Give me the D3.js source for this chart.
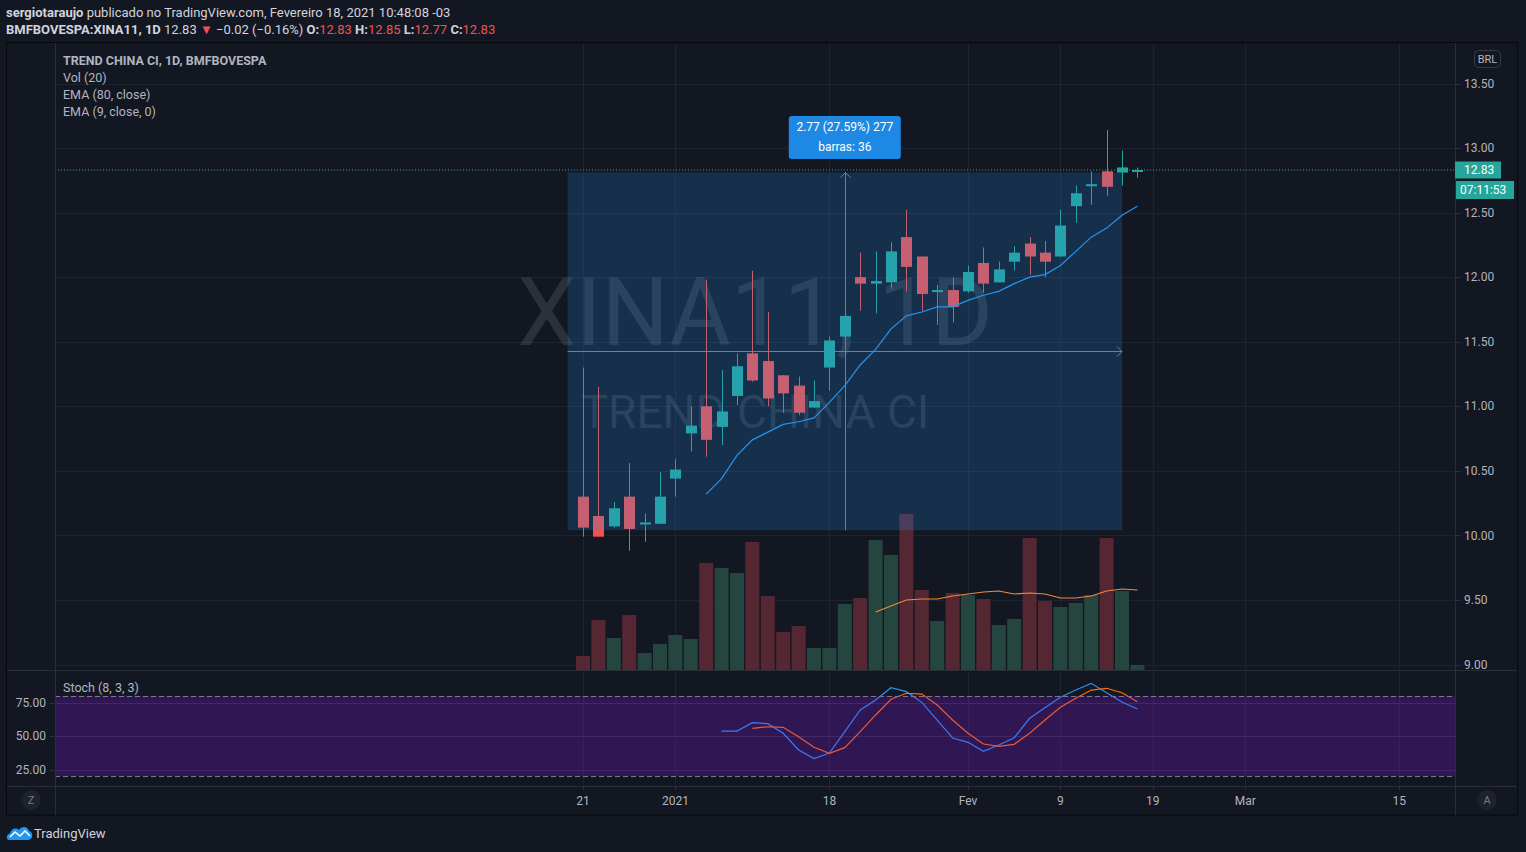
<!DOCTYPE html>
<html>
<head>
<meta charset="utf-8">
<script src="https://cdn.jsdelivr.net/npm/d3@7"></script>
<style>
  html, body { margin: 0; padding: 0; background: #131722; }
  svg { display: block; font-family: Roboto, "Noto Sans", sans-serif; }
</style>
</head>
<body>
<div id="chart"></div>
<script>
// XINA11 daily - values

// trading days (index 0 = Dec 21 2020)
const dates = ["2020-12-21","2020-12-22","2020-12-23","2020-12-28","2020-12-29","2020-12-30",
  "2021-01-04","2021-01-05","2021-01-06","2021-01-07","2021-01-08","2021-01-11","2021-01-12",
  "2021-01-13","2021-01-14","2021-01-15","2021-01-18","2021-01-19","2021-01-20","2021-01-21",
  "2021-01-22","2021-01-26","2021-01-27","2021-01-28","2021-01-29","2021-02-01","2021-02-02",
  "2021-02-03","2021-02-04","2021-02-05","2021-02-08","2021-02-09","2021-02-10","2021-02-11",
  "2021-02-12","2021-02-17","2021-02-18"];

const open  = [10.30,10.15,10.07,10.30,10.09,10.09,10.44,10.79,11.00,10.84,11.08,11.41,11.35,11.24,11.16,10.99,11.30,11.54,12.00,11.95,11.96,12.31,12.16,11.89,11.90,11.89,12.11,11.96,12.12,12.26,12.19,12.16,12.55,12.71,12.82,12.81,12.83];
const high  = [11.30,11.15,10.26,10.56,10.17,10.49,10.59,11.00,11.98,11.28,11.41,12.05,11.73,11.24,11.23,11.20,11.54,11.73,12.19,12.20,12.27,12.52,12.16,11.94,12.00,12.09,12.23,12.12,12.24,12.31,12.28,12.52,12.71,12.82,13.14,12.98,12.85];
const low   = [9.99,9.99,10.06,9.88,9.95,10.09,10.30,10.65,10.61,10.70,11.01,11.19,11.00,10.95,10.93,10.99,11.12,11.48,11.74,11.72,11.91,11.89,11.74,11.63,11.65,11.88,11.88,11.96,12.05,12.02,12.00,12.16,12.42,12.56,12.63,12.71,12.77];
const close = [10.06,9.99,10.21,10.05,10.10,10.30,10.51,10.85,10.74,10.96,11.31,11.20,11.06,11.10,10.95,11.04,11.51,11.70,11.95,11.97,12.20,12.08,11.87,11.90,11.77,12.04,11.95,12.06,12.19,12.16,12.12,12.40,12.65,12.72,12.70,12.85,12.83];

// volume, relative units (no scale shown on the snapshot)
const volume = [14,50,32,55,17,26,35,31,107,102,97,128,74,38,44,22,22,66,72,130,115,156,80,49,77,75,71,45,51,132,69,63,67,75,132,79,5];
// Vol (20) moving average, starts at bar 19
const volMA = [null,null,null,null,null,null,null,null,null,null,null,null,null,null,null,null,null,null,null,
  58,64,70,71,71,74,76,78,79,76,77,76,72,72,74,79,81,80];

// EMA (9, close), starts at bar 8
const ema9 = [null,null,null,null,null,null,null,null,
  10.32,10.44,10.62,10.74,10.80,10.86,10.88,10.91,11.03,11.16,11.32,11.44,11.60,11.70,11.73,11.77,11.77,11.82,11.86,11.89,11.95,12.00,12.02,12.09,12.20,12.31,12.38,12.48,12.55];

// Stoch (8, 3, 3)
const stochK = [null,null,null,null,null,null,null,null,null,
  53.7,53.7,59.9,59.2,52.0,39.6,33.1,37.3,53.2,69.4,76.9,86.0,83.1,75.1,61.9,48.5,45.3,38.6,43.3,48.7,63.2,71.1,78.9,84.3,89.3,82.3,75.4,70.1];
const stochD = [null,null,null,null,null,null,null,null,null,null,null,
  55.7,56.9,56.5,49.5,41.6,37.1,41.3,53.2,65.7,77.4,81.9,81.3,73.1,61.9,52.0,44.0,42.3,43.8,52.0,61.9,71.4,78.1,84.3,85.6,82.3,75.6];

// axes
const priceTicks = [9.0, 9.5, 10.0, 10.5, 11.0, 11.5, 12.0, 12.5, 13.0, 13.5];
const stochTicks = [25, 50, 75];
const timeTickIndex = [0, 6, 16, 25, 31, 37, 43, 53];
const timeTickLabels = ["21", "2021", "18", "Fev", "9", "19", "Mar", "15"];

// price range measurement (bar -1 to bar 35)
const measureBars = [-1, 35];
const measurePrices = [10.04, 12.81];

const W = 1526, H = 852;
const paneL = 55, paneR = 1455, paneT = 43, paneB = 670;
const stochT = 672, stochB = 786, frameB = 815;

const UP = "#26a69a", DOWN = "#ef5350";
const GRID = "#1f2330", BORDER = "#2a2e39", TEXT = "#b2b5be";

const x = d3.scaleLinear().domain([0, 53]).range([583, 583 + 53 * 15.4]);
const y = d3.scaleLinear().domain([9, 13.5]).range([664.5, 83.5]);
const yVol = d3.scaleLinear().domain([0, 156]).range([670, 514]);
const yStoch = d3.scaleLinear().domain([0, 100]).range([803, 669]);

const svg = d3.select("#chart").append("svg")
  .attr("width", W)
  .attr("height", H)
  .style("white-space", "pre");

svg.append("rect").attr("width", W).attr("height", H).attr("fill", "#131722");

// clip paths for the two panes
const defs = svg.append("defs");
defs.append("clipPath").attr("id", "mainClip").append("rect")
  .attr("x", paneL).attr("y", paneT).attr("width", paneR - paneL).attr("height", paneB - paneT);
defs.append("clipPath").attr("id", "stochClip").append("rect")
  .attr("x", paneL).attr("y", stochT).attr("width", paneR - paneL).attr("height", stochB - stochT);

// ---------- header ----------
const h1 = svg.append("text").attr("x", 6).attr("y", 17)
  .attr("font-size", "13px").attr("fill", "#d1d4dc");
h1.append("tspan").attr("font-weight", "700").text("sergiotaraujo");
h1.append("tspan").text(" publicado no TradingView.com, Fevereiro 18, 2021 10:48:08 -03");

const last = close.length - 1;
const chg = close[last] - close[last - 1];
const h2 = svg.append("text").attr("x", 6).attr("y", 34)
  .attr("font-size", "13px").attr("fill", "#d1d4dc");
h2.append("tspan").attr("font-weight", "700").text("BMFBOVESPA:XINA11, 1D");
h2.append("tspan").text("  " + close[last].toFixed(2) + " ");
h2.append("tspan").attr("fill", DOWN).text("▼");
h2.append("tspan").text(" \u2212" + Math.abs(chg).toFixed(2) + " (\u2212" + Math.abs(chg / close[last - 1] * 100).toFixed(2) + "%) ");
[["O:", open[last]], ["H:", high[last]], ["L:", low[last]], ["C:", close[last]]].forEach(([k, v]) => {
  h2.append("tspan").attr("font-weight", "700").text(k);
  h2.append("tspan").attr("fill", DOWN).text(v.toFixed(2) + " ");
});

// outer frame
svg.append("rect")
  .attr("x", 6.5).attr("y", 42.5).attr("width", 1511).attr("height", frameB - 42.5)
  .attr("fill", "#131722").attr("stroke", "#07080b");

// ---------- main pane ----------
const main = svg.append("g").attr("clip-path", "url(#mainClip)");

// grid
main.selectAll(".hgrid").data(priceTicks).enter().append("line")
  .attr("x1", paneL).attr("x2", paneR)
  .attr("y1", d => Math.round(y(d)) + 0.5).attr("y2", d => Math.round(y(d)) + 0.5)
  .attr("stroke", GRID);
main.selectAll(".vgrid").data(timeTickIndex).enter().append("line")
  .attr("x1", d => Math.round(x(d)) + 0.5).attr("x2", d => Math.round(x(d)) + 0.5)
  .attr("y1", paneT).attr("y2", paneB)
  .attr("stroke", GRID);

// watermark
main.append("text")
  .attr("x", (paneL + paneR) / 2).attr("y", 345)
  .attr("text-anchor", "middle")
  .attr("font-size", "94px")
  .attr("fill", "rgba(120,123,134,0.25)")
  .text("XINA11, 1D");
main.append("text")
  .attr("x", (paneL + paneR) / 2).attr("y", 428)
  .attr("text-anchor", "middle")
  .attr("font-size", "46px")
  .attr("fill", "rgba(120,123,134,0.25)")
  .text("TREND CHINA CI");

// volume bars
main.selectAll(".vol").data(volume).enter().append("rect")
  .attr("x", (d, i) => x(i) - 7)
  .attr("width", 14)
  .attr("y", d => yVol(d))
  .attr("height", d => yVol(0) - yVol(d))
  .attr("fill", (d, i) => close[i] >= open[i] ? "#25463f" : "#552732");

// volume MA
main.append("path")
  .datum(volMA)
  .attr("fill", "none")
  .attr("stroke", "#f08a3a")
  .attr("stroke-width", 1.2)
  .attr("d", d3.line().defined(d => d != null).x((d, i) => x(i)).y(d => yVol(d)));

// candles
const candles = main.selectAll(".candle").data(open).enter().append("g");
candles.append("line")
  .attr("x1", (d, i) => Math.round(x(i)) + 0.5).attr("x2", (d, i) => Math.round(x(i)) + 0.5)
  .attr("y1", (d, i) => y(high[i])).attr("y2", (d, i) => y(low[i]))
  .attr("stroke", (d, i) => close[i] >= open[i] ? UP : DOWN);
candles.append("rect")
  .attr("x", (d, i) => Math.round(x(i)) - 5)
  .attr("width", 11)
  .attr("y", (d, i) => y(Math.max(open[i], close[i])))
  .attr("height", (d, i) => Math.max(2, Math.abs(y(open[i]) - y(close[i]))))
  .attr("fill", (d, i) => close[i] >= open[i] ? UP : DOWN);

// EMA 9
main.append("path")
  .datum(ema9)
  .attr("fill", "none")
  .attr("stroke", "#2196f3")
  .attr("stroke-width", 1.2)
  .attr("d", d3.line().defined(d => d != null).x((d, i) => x(i)).y(d => y(d)));

// last price dotted line
main.append("line")
  .attr("x1", paneL).attr("x2", paneR)
  .attr("y1", y(close[last])).attr("y2", y(close[last]))
  .attr("stroke", UP).attr("stroke-dasharray", "1,2");

// measurement tool (box drawn over the candles)
const mx0 = x(measureBars[0]), mx1 = x(measureBars[1]);
const my0 = y(measurePrices[0]), my1 = y(measurePrices[1]);
const midX = x((measureBars[0] + measureBars[1]) / 2);
const midY = y((measurePrices[0] + measurePrices[1]) / 2);
main.append("rect")
  .attr("x", mx0).attr("y", my1)
  .attr("width", mx1 - mx0).attr("height", my0 - my1)
  .attr("fill", "rgba(33,150,243,0.2)");
main.append("line")
  .attr("x1", Math.round(midX) + 0.5).attr("x2", Math.round(midX) + 0.5)
  .attr("y1", my0).attr("y2", my1)
  .attr("stroke", "#2196f3");
main.append("path")
  .attr("d", `M${Math.round(midX) - 4.5},${my1 + 5} L${Math.round(midX) + 0.5},${my1} L${Math.round(midX) + 5.5},${my1 + 5}`)
  .attr("fill", "none").attr("stroke", "#2196f3");
main.append("line")
  .attr("x1", mx0).attr("x2", mx1)
  .attr("y1", Math.round(midY) + 0.5).attr("y2", Math.round(midY) + 0.5)
  .attr("stroke", "#2196f3");
main.append("path")
  .attr("d", `M${mx1 - 5},${Math.round(midY) - 4.5} L${mx1},${Math.round(midY) + 0.5} L${mx1 - 5},${Math.round(midY) + 5.5}`)
  .attr("fill", "none").attr("stroke", "#2196f3");

// measurement label
const diff = measurePrices[1] - measurePrices[0];
const pct = diff / measurePrices[0] * 100;
const nBars = measureBars[1] - measureBars[0];
main.append("rect")
  .attr("x", midX - 56).attr("y", 116)
  .attr("width", 112).attr("height", 43)
  .attr("rx", 3)
  .attr("fill", "#1e88e5");
main.append("text")
  .attr("x", midX).attr("y", 131)
  .attr("text-anchor", "middle").attr("font-size", "12px").attr("fill", "#fff")
  .text(`${diff.toFixed(2)} (${pct.toFixed(2)}%) ${Math.round(diff * 100)}`);
main.append("text")
  .attr("x", midX).attr("y", 151)
  .attr("text-anchor", "middle").attr("font-size", "12px").attr("fill", "#fff")
  .text(`barras: ${nBars}`);

// legend
const legend = svg.append("g").attr("font-size", "12.5px").attr("fill", TEXT);
legend.append("text").attr("x", 63).attr("y", 65).attr("font-weight", "700").text("TREND CHINA CI, 1D, BMFBOVESPA");
legend.append("text").attr("x", 63).attr("y", 82).text("Vol (20)");
legend.append("text").attr("x", 63).attr("y", 99).text("EMA (80, close)");
legend.append("text").attr("x", 63).attr("y", 116).text("EMA (9, close, 0)");

// ---------- stoch pane ----------
const stoch = svg.append("g").attr("clip-path", "url(#stochClip)");
stoch.selectAll(".vgrid").data(timeTickIndex).enter().append("line")
  .attr("x1", d => Math.round(x(d)) + 0.5).attr("x2", d => Math.round(x(d)) + 0.5)
  .attr("y1", stochT).attr("y2", stochB)
  .attr("stroke", GRID);
stoch.selectAll(".hgrid").data(stochTicks).enter().append("line")
  .attr("x1", paneL).attr("x2", paneR)
  .attr("y1", d => Math.round(yStoch(d)) + 0.5).attr("y2", d => Math.round(yStoch(d)) + 0.5)
  .attr("stroke", BORDER);
stoch.append("path")
  .datum(stochK)
  .attr("fill", "none").attr("stroke", "#2196f3").attr("stroke-width", 1.2)
  .attr("d", d3.line().defined(d => d != null).x((d, i) => x(i)).y(d => yStoch(d)));
stoch.append("path")
  .datum(stochD)
  .attr("fill", "none").attr("stroke", "#ff6d00").attr("stroke-width", 1.2)
  .attr("d", d3.line().defined(d => d != null).x((d, i) => x(i)).y(d => yStoch(d)));
// band fill sits on top of the lines
stoch.append("rect")
  .attr("x", paneL).attr("width", paneR - paneL)
  .attr("y", yStoch(80)).attr("height", yStoch(20) - yStoch(80))
  .attr("fill", "rgba(153,21,255,0.22)");
[80, 20].forEach(v => {
  stoch.append("line")
    .attr("x1", paneL).attr("x2", paneR)
    .attr("y1", Math.round(yStoch(v)) + 0.5).attr("y2", Math.round(yStoch(v)) + 0.5)
    .attr("stroke", "#787b86").attr("stroke-dasharray", "5,3");
});
svg.append("text").attr("x", 63).attr("y", 692)
  .attr("font-size", "12.5px").attr("fill", TEXT).text("Stoch (8, 3, 3)");

// stoch axis on the left
svg.selectAll(".stochTick").data(stochTicks).enter().append("text")
  .attr("x", 46).attr("y", d => yStoch(d))
  .attr("dy", "0.35em").attr("text-anchor", "end")
  .attr("font-size", "12px").attr("fill", TEXT)
  .text(d => d.toFixed(2));
svg.selectAll(".stochTickMark").data(stochTicks).enter().append("line")
  .attr("x1", 50).attr("x2", paneL)
  .attr("y1", d => Math.round(yStoch(d)) + 0.5).attr("y2", d => Math.round(yStoch(d)) + 0.5)
  .attr("stroke", BORDER);

// ---------- borders ----------
svg.append("line").attr("x1", 7).attr("x2", 1517).attr("y1", paneB + 0.5).attr("y2", paneB + 0.5).attr("stroke", BORDER);
svg.append("line").attr("x1", 7).attr("x2", 1517).attr("y1", stochB + 0.5).attr("y2", stochB + 0.5).attr("stroke", BORDER);
svg.append("line").attr("x1", paneL + 0.5).attr("x2", paneL + 0.5).attr("y1", 43).attr("y2", frameB).attr("stroke", BORDER);
svg.append("line").attr("x1", paneR + 0.5).attr("x2", paneR + 0.5).attr("y1", 43).attr("y2", frameB).attr("stroke", BORDER);

// ---------- price axis ----------
const priceAxis = svg.append("g");
priceAxis.selectAll(".tick").data(priceTicks).enter().append("line")
  .attr("x1", paneR).attr("x2", paneR + 6)
  .attr("y1", d => Math.round(y(d)) + 0.5).attr("y2", d => Math.round(y(d)) + 0.5)
  .attr("stroke", BORDER);
priceAxis.selectAll(".label").data(priceTicks).enter().append("text")
  .attr("x", 1464).attr("y", d => y(d)).attr("dy", "0.35em")
  .attr("font-size", "12px").attr("fill", TEXT)
  .text(d => d.toFixed(2));

// BRL badge
svg.append("rect").attr("x", 1474.5).attr("y", 50.5).attr("width", 26).attr("height", 17).attr("rx", 4)
  .attr("fill", "none").attr("stroke", "#363a45");
svg.append("text").attr("x", 1487.5).attr("y", 59).attr("dy", "0.35em").attr("text-anchor", "middle")
  .attr("font-size", "11px").attr("fill", TEXT).text("BRL");

// last price label + countdown
const ly = y(close[last]);
svg.append("rect").attr("x", paneR).attr("y", ly - 8.5).attr("width", 46).attr("height", 17).attr("fill", UP);
svg.append("text").attr("x", 1464).attr("y", ly).attr("dy", "0.35em")
  .attr("font-size", "12px").attr("fill", "#fff").text(close[last].toFixed(2));
svg.append("rect").attr("x", paneR + 1).attr("y", ly + 11).attr("width", 58).attr("height", 18).attr("fill", UP);
svg.append("text").attr("x", 1460).attr("y", ly + 20).attr("dy", "0.35em")
  .attr("font-size", "12px").attr("fill", "#fff").text("07:11:53");

// ---------- time axis ----------
svg.selectAll(".timeTick").data(timeTickIndex).enter().append("line")
  .attr("x1", d => Math.round(x(d)) + 0.5).attr("x2", d => Math.round(x(d)) + 0.5)
  .attr("y1", stochB).attr("y2", stochB + 4)
  .attr("stroke", BORDER);
svg.selectAll(".timeLabel").data(timeTickIndex).enter().append("text")
  .attr("x", d => x(d)).attr("y", 801).attr("dy", "0.35em")
  .attr("text-anchor", "middle").attr("font-size", "12px").attr("fill", TEXT)
  .text((d, i) => timeTickLabels[i]);

// Z / A buttons
[[31, "Z"], [1487, "A"]].forEach(([cx, t]) => {
  svg.append("circle").attr("cx", cx).attr("cy", 800).attr("r", 10).attr("fill", "#1e222d");
  svg.append("text").attr("x", cx).attr("y", 800).attr("dy", "0.35em").attr("text-anchor", "middle")
    .attr("font-size", "11px").attr("fill", "#787b86").text(t);
});

// ---------- footer logo ----------
const logo = svg.append("g").attr("transform", "translate(6,825)");
logo.append("path")
  .attr("d", "M3,15 C0,15 0,9 4,8.5 C5,4 10,2 13,5 C15,1 22,1 23,6 C27,6 28,15 22,15 Z")
  .attr("fill", "#2196f3");
logo.append("path")
  .attr("d", "M4,12 L9,7 L14,11 L19,6 L24,11")
  .attr("fill", "none").attr("stroke", "#fff").attr("stroke-width", 1.6);
svg.append("text").attr("x", 34).attr("y", 838)
  .attr("font-size", "13px").attr("fill", "#d1d4dc").text("TradingView");
</script>
</body>
</html>
